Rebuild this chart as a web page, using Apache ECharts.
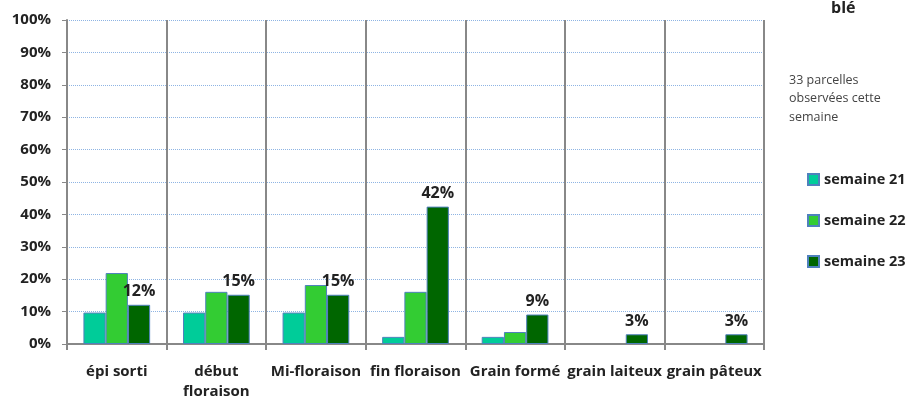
<!DOCTYPE html>
<html>
<head>
<meta charset="utf-8">
<script src="https://cdn.jsdelivr.net/npm/echarts@6/dist/echarts.min.js"></script>
<style>
  html, body { margin: 0; padding: 0; background: #fff; }
  #chart { width: 912px; height: 402px; }
</style>
</head>
<body>
<div id="chart"></div>
<script>
// stades du blé (en % des parcelles)
var stades = ['épi sorti', 'début\nfloraison', 'Mi-floraison', 'fin floraison', 'Grain formé', 'grain laiteux', 'grain pâteux'];
var semaine21 = [9.7, 9.7, 9.7, 2.2, 2.2, 0, 0];
var semaine22 = [21.9, 16.1, 18.2, 16.1, 3.7, 0, 0];
var semaine23 = [12.1, 15.2, 15.2, 42.4, 9.1, 3.0, 3.0];
var seriesNames = ['semaine 21', 'semaine 22', 'semaine 23'];
var seriesColors = ['#00CC99', '#33CC33', '#006600'];

var font = '"Open Sans", sans-serif';
var chart = echarts.init(document.getElementById('chart'));

function makeSeries(name, data, color, withLabel) {
  return {
    name: name,
    type: 'bar',
    // pas de barre pour les valeurs nulles
    data: data.map(function (v) { return v === 0 ? '-' : v; }),
    barGap: '0%',
    barCategoryGap: '33%',
    itemStyle: { color: color, borderColor: '#4F81BD', borderWidth: 1 },
    label: {
      show: withLabel,
      position: 'top',
      distance: 5,
      fontFamily: font,
      fontWeight: 'bold',
      fontSize: 16,
      color: '#222',
      formatter: function (p) { return Math.round(p.value) + '%'; }
    }
  };
}

var option = {
  animation: false,
  textStyle: { fontFamily: font },
  grid: { left: 67, right: 148, top: 20, bottom: 53 },
  graphic: [
    { type: 'text', left: 831, top: 0, style: { text: 'blé', font: 'bold 16px ' + font, fill: '#222' } },
    { type: 'text', left: 789, top: 71, style: { text: '33 parcelles\nobservées cette\nsemaine', font: '12.5px ' + font, fill: '#444', lineHeight: 18.5 } }
  ],
  legend: {
    orient: 'vertical',
    left: 802,
    top: 167,
    itemWidth: 11,
    itemHeight: 11,
    itemGap: 26,
    icon: 'rect',
    textStyle: { fontFamily: font, fontWeight: 'bold', fontSize: 14.5, color: '#222' },
    data: seriesNames
  },
  xAxis: {
    type: 'category',
    data: stades,
    axisLine: { lineStyle: { color: '#888', width: 2 } },
    axisTick: { show: true, length: 6, lineStyle: { color: '#888', width: 2 } },
    splitLine: { show: true, lineStyle: { color: '#888', width: 2 } },
    axisLabel: { fontFamily: font, fontWeight: 'bold', fontSize: 15, color: '#222', margin: 18, lineHeight: 20, interval: 0 }
  },
  yAxis: {
    type: 'value',
    min: 0,
    max: 100,
    interval: 10,
    axisLine: { show: true, lineStyle: { color: '#888', width: 2 } },
    axisTick: { show: true, length: 5, lineStyle: { color: '#888' } },
    splitLine: { lineStyle: { color: '#8EB4E3', type: 'dotted', width: 1 } },
    axisLabel: { fontFamily: font, fontWeight: 'bold', fontSize: 15, color: '#222', margin: 16, formatter: '{value}%' }
  },
  series: [
    makeSeries(seriesNames[0], semaine21, seriesColors[0], false),
    makeSeries(seriesNames[1], semaine22, seriesColors[1], false),
    makeSeries(seriesNames[2], semaine23, seriesColors[2], true)
  ]
};

chart.setOption(option);
</script>
</body>
</html>
